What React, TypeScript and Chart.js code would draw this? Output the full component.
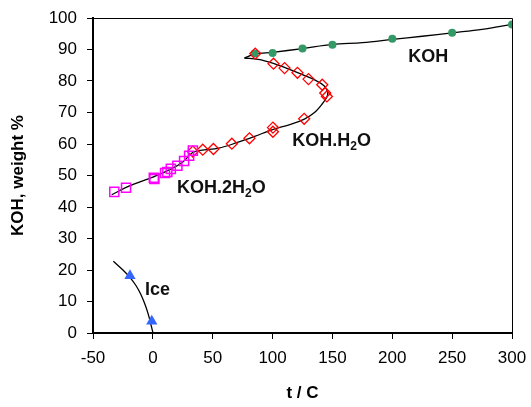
import React, { useEffect, useRef } from "react";
import { Chart, registerables } from "chart.js";

Chart.register(...registerables);

// KOH.2H2O (squares)
const squareT = [-32.2, -22.4, 0.8, 1.3, 10.2, 12.1, 15.0, 20.5, 26.1, 30.3, 33.4];
const squareW = [44.8, 46.1, 49.3, 48.9, 50.8, 51.1, 52.1, 53.1, 54.6, 56.3, 57.9];
// KOH.H2O (diamonds)
const diamondT = [33.4, 41.7, 50.6, 66.0, 80.7, 100.3, 100.3, 126.4, 145.4, 144.0, 141.5, 130.0, 120.8, 110.0, 100.8, 85.5];
const diamondW = [57.6, 58.2, 58.4, 60.1, 61.8, 65.2, 63.9, 68.0, 75.1, 76.2, 78.8, 80.6, 82.6, 84.1, 85.5, 88.7];
// KOH (dots)
const dotT = [85, 100, 125, 150, 200, 250, 300];
const dotW = [88.7, 88.9, 90.3, 91.5, 93.4, 95.3, 97.9];
// Ice (triangles)
const triT = [-19.1, -0.9];
const triW = [18.2, 3.7];

// fitted curves
const hydCurveT = [-34.4, -20, 0, 15, 25, 33, 40, 55, 70, 85, 100, 115, 127, 135, 141, 145.5, 146, 143, 136, 125, 112, 100, 88, 76.5];
const hydCurveW = [43.9, 46.6, 49.5, 52, 54.3, 57.2, 58, 58.7, 60.4, 62.4, 64.6, 66.2, 68, 70, 72.5, 75, 76.5, 78.5, 80.2, 82, 84, 85.7, 86.9, 87.3];
const kohCurveT = [76.5, 85, 100, 125, 150, 175, 200, 225, 250, 275, 300];
const kohCurveW = [87.3, 88.5, 89.1, 90.3, 91.6, 92.2, 93.2, 94.2, 95.3, 96.4, 98];
const iceCurveT = [-33, -25, -19, -14, -10, -6, -3.5, -1.5, 0.8];
const iceCurveW = [22.8, 20, 17.6, 15, 12.2, 8.5, 5.5, 2.5, -1];

const xTicks = [-50, 0, 50, 100, 150, 200, 250, 300];
const yTicks = [0, 10, 20, 30, 40, 50, 60, 70, 80, 90, 100];

const FONT = "'Liberation Sans', Arial, sans-serif";

const pts = (xs: number[], ys: number[]) => xs.map((x, i) => ({ x, y: ys[i] }));

// label: [main parts with subscripts], anchored in data units
const labels: { t: number; w: number; parts: [string, boolean][] }[] = [
  { t: 213.4, w: 86.1, parts: [["KOH", false]] },
  { t: 116.4, w: 59.5, parts: [["KOH.H", false], ["2", true], ["O", false]] },
  { t: 20.2, w: 44.6, parts: [["KOH.2H", false], ["2", true], ["O", false]] },
  { t: -6.5, w: 12.2, parts: [["Ice", false]] },
];

const framePlugin = {
  id: "frame",
  afterDraw(chart: any) {
    const { ctx, chartArea: a, scales } = chart;
    ctx.save();
    ctx.strokeStyle = "#000";
    ctx.lineWidth = 1;
    ctx.beginPath();
    ctx.moveTo(a.left, a.top + 0.5);
    ctx.lineTo(a.right + 0.5, a.top + 0.5);
    ctx.lineTo(a.right + 0.5, a.bottom);
    ctx.stroke();
    ctx.fillStyle = "#111";
    ctx.textBaseline = "alphabetic";
    ctx.textAlign = "left";
    for (const l of labels) {
      let x = scales.x.getPixelForValue(l.t);
      const y = scales.y.getPixelForValue(l.w);
      for (const [s, sub] of l.parts) {
        ctx.font = sub ? `bold 12px ${FONT}` : `bold 18px ${FONT}`;
        ctx.fillText(s, x, sub ? y + 4 : y);
        x += ctx.measureText(s).width;
      }
    }
    ctx.restore();
  },
};

export default function App() {
  const ref = useRef<HTMLCanvasElement>(null);
  useEffect(() => {
    document.body.style.margin = "0";
    const chart = new Chart(ref.current!, {
      type: "scatter",
      data: {
        datasets: [
          {
            data: pts(squareT, squareW),
            pointStyle: "rect",
            pointRadius: 6.4,
            pointBorderWidth: 1.5,
            pointBorderColor: "#FF00FF",
            pointBackgroundColor: "rgba(0,0,0,0)",
            showLine: false,
          },
          {
            data: pts(diamondT, diamondW),
            pointStyle: "rectRot",
            pointRadius: 5.5,
            pointBorderWidth: 1.3,
            pointBorderColor: "#FF0000",
            pointBackgroundColor: "rgba(0,0,0,0)",
            showLine: false,
          },
          {
            data: pts(dotT, dotW),
            pointStyle: "circle",
            pointRadius: 4,
            pointBorderWidth: 0,
            pointBorderColor: "#339966",
            pointBackgroundColor: "#339966",
            showLine: false,
          },
          {
            data: pts(triT, triW),
            pointStyle: "triangle",
            pointRadius: 6.5,
            pointBorderWidth: 0,
            pointBorderColor: "#3366FF",
            pointBackgroundColor: "#3366FF",
            showLine: false,
          },
          {
            data: pts(hydCurveT, hydCurveW),
            showLine: true,
            borderColor: "#000",
            borderWidth: 1.3,
            pointRadius: 0,
            tension: 0.35,
          },
          {
            data: pts(kohCurveT, kohCurveW),
            showLine: true,
            borderColor: "#000",
            borderWidth: 1.3,
            pointRadius: 0,
            tension: 0.35,
          },
          {
            data: pts(iceCurveT, iceCurveW),
            showLine: true,
            borderColor: "#000",
            borderWidth: 1.3,
            pointRadius: 0,
            tension: 0.35,
          },
        ],
      },
      options: {
        animation: false,
        responsive: false,
        devicePixelRatio: 1,
        layout: { padding: { left: 0, top: 18, right: 19, bottom: 0 } },
        plugins: { legend: { display: false }, tooltip: { enabled: false } },
        scales: {
          x: {
            type: "linear",
            min: -50,
            max: 300,
            afterBuildTicks: (s: any) => {
              s.ticks = xTicks.map((v) => ({ value: v }));
            },
            afterFit: (s: any) => {
              s.height = 74;
              s.paddingLeft = 0;
              s.paddingRight = 0;
            },
            grid: { drawOnChartArea: false, drawTicks: true, tickLength: 6, color: "#000", lineWidth: 1 },
            border: { display: true, color: "#000", width: 2 },
            ticks: { color: "#000", font: { family: FONT, size: 17 }, padding: 9, maxRotation: 0 },
            title: {
              display: true,
              text: "t / C",
              color: "#000",
              font: { family: FONT, size: 17, weight: "bold" },
              padding: { top: 0, bottom: 3 },
            },
          },
          y: {
            type: "linear",
            min: 0,
            max: 100,
            afterBuildTicks: (s: any) => {
              s.ticks = yTicks.map((v) => ({ value: v }));
            },
            afterFit: (s: any) => {
              s.width = 93;
              s.paddingTop = 0;
              s.paddingBottom = 0;
            },
            grid: { drawOnChartArea: false, drawTicks: true, tickLength: 6, color: "#000", lineWidth: 1 },
            border: { display: true, color: "#000", width: 2 },
            ticks: { color: "#000", font: { family: FONT, size: 17 }, padding: 10 },
            title: {
              display: true,
              text: "KOH, weight %",
              color: "#000",
              font: { family: FONT, size: 17, weight: "bold" },
              padding: { top: 8, bottom: 0 },
            },
          },
        },
      },
      plugins: [framePlugin],
    });
    return () => chart.destroy();
  }, []);
  return <canvas ref={ref} width={531} height={407} style={{ display: "block" }} />;
}
